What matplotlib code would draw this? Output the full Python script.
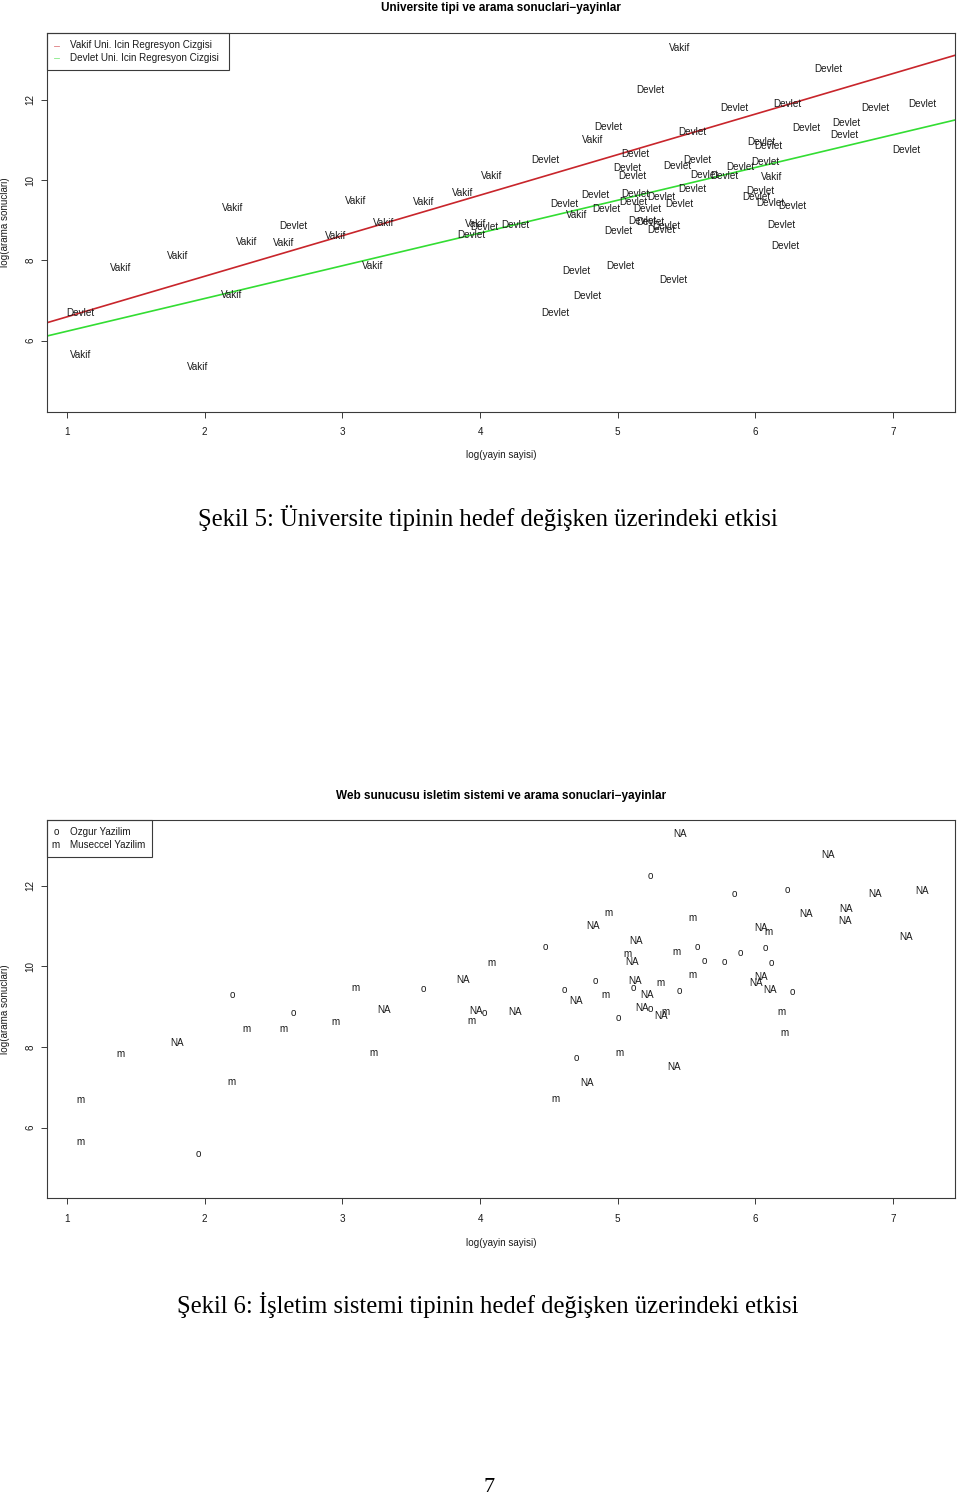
import matplotlib
matplotlib.use("Agg")
import matplotlib.pyplot as plt
from matplotlib.patches import Rectangle
from matplotlib.lines import Line2D

W, H = 960, 1498

# ---------------- data ----------------
log_yayin = [1.100, 1.102, 1.39, 1.80, 1.952, 2.20, 2.198, 2.307, 2.644, 2.570,
             2.95, 3.096, 3.223, 3.30, 3.589, 3.876, 4.08, 3.968, 4.03, 3.935,
             4.253, 5.452, 6.529, 5.237, 5.846, 6.230, 6.868, 7.208, 6.367, 6.66,
             6.648, 7.093, 4.931, 4.82, 5.541, 6.041, 6.095, 5.130, 4.471, 5.071,
             5.102, 5.429, 5.580, 5.63, 5.777, 5.888, 6.07, 6.119, 5.544, 6.037,
             6.003, 6.108, 6.271, 4.835, 5.128, 5.314, 5.110, 5.449, 4.609, 4.914,
             5.214, 4.699, 5.176, 5.239, 5.35, 5.316, 5.006, 6.187, 6.214, 4.699,
             5.016, 5.406, 4.776, 4.546]
log_arama = [6.68, 5.64, 7.82, 8.11, 5.34, 9.30, 7.14, 8.46, 8.85, 8.44,
             8.61, 9.47, 7.85, 8.93, 9.45, 9.67, 10.09, 8.90, 8.84, 8.64,
             8.88, 13.28, 12.77, 12.23, 11.79, 11.89, 11.79, 11.88, 11.30, 11.43,
             11.13, 10.74, 11.33, 11.0, 11.20, 10.95, 10.85, 10.64, 10.49, 10.30,
             10.11, 10.36, 10.49, 10.13, 10.10, 10.32, 10.46, 10.08, 9.78, 9.73,
             9.58, 9.42, 9.36, 9.63, 9.64, 9.58, 9.46, 9.40, 9.41, 9.28,
             9.28, 9.13, 8.98, 8.95, 8.86, 8.76, 8.72, 8.87, 8.36, 7.74,
             7.86, 7.50, 7.11, 6.70]
uni_tipi = (["Devlet"] + ["Vakif"] * 7 + ["Devlet"] + ["Vakif"] * 9 + ["Devlet"] * 3
            + ["Vakif"] + ["Devlet"] * 11 + ["Vakif"] + ["Devlet"] * 13 + ["Vakif"]
            + ["Devlet"] * 13 + ["Vakif"] + ["Devlet"] * 12)
isletim = ["m", "m", "m", "NA", "o", "o", "m", "m", "o", "m",
           "m", "m", "m", "NA", "o", "NA", "m", "NA", "o", "m",
           "NA", "NA", "NA", "o", "o", "o", "NA", "NA", "NA", "NA",
           "NA", "NA", "m", "NA", "m", "NA", "m", "NA", "o", "m",
           "NA", "m", "o", "o", "o", "o", "o", "o", "m", "NA",
           "NA", "NA", "o", "o", "NA", "m", "o", "o", "o", "m",
           "NA", "NA", "NA", "o", "m", "NA", "o", "m", "m", "o",
           "m", "NA", "NA", "m"]

# regression lines (intercept, slope)
vakif_fit = (5.585, 1.0095)
devlet_fit = (5.420, 0.8154)

x_ticks = [1, 2, 3, 4, 5, 6, 7]
y_ticks = [6, 8, 10, 12]

title1 = "Universite tipi ve arama sonuclari\u2212yayinlar"
title2 = "Web sunucusu isletim sistemi ve arama sonuclari\u2212yayinlar"
xlabel = "log(yayin sayisi)"
ylabel = "log(arama sonuclari)"
legend1 = ["Vakif Uni. Icin Regresyon Cizgisi", "Devlet Uni. Icin Regresyon Cizgisi"]
legend2_sym = ["o", "m"]
legend2 = ["Ozgur Yazilim", "Museccel Yazilim"]
caption1 = "\u015eekil 5: \u00dcniversite tipinin hedef de\u011fi\u015fken \u00fczerindeki etkisi"
caption2 = "\u015eekil 6: \u0130\u015fletim sistemi tipinin hedef de\u011fi\u015fken \u00fczerindeki etkisi"
page_no = "7"

# ---------------- styling ----------------
SANS = "Liberation Sans"
SERIF = "Liberation Serif"
TXT = "#1a1a1a"
FRAME = "#3a3a3a"
RED = "#C8252B"
GREEN = "#33DD33"
FS = 7.1
CAP_FS = 17.7

plt.rcParams["font.family"] = [SANS, "DejaVu Sans"]

fig = plt.figure(figsize=(W / 100, H / 100), dpi=100)
fig.patch.set_facecolor("white")


def fx(px):
    return px / W


def fy(py):
    return 1 - py / H


def add_ax(left, top, right, bottom):
    return fig.add_axes([fx(left), fy(bottom), (right - left) / W, (bottom - top) / H])


def style_ax(ax, ylim):
    ax.set_xlim(0.855, 7.449)
    ax.set_ylim(*ylim)
    ax.set_xticks(x_ticks)
    ax.set_xticklabels([str(t) for t in x_ticks])
    ax.set_yticks(y_ticks)
    ax.set_yticklabels([str(t) for t in y_ticks], rotation=90, va="center")
    ax.tick_params(axis="both", direction="out", length=4.3, width=0.7,
                   colors=FRAME, labelcolor=TXT, labelsize=FS)
    ax.tick_params(axis="x", pad=7)
    ax.tick_params(axis="y", pad=4)
    for s in ax.spines.values():
        s.set_color(FRAME)
        s.set_linewidth(0.8)


# ---------------- top plot ----------------
ax1 = add_ax(47, 33.3, 955, 411.7)
style_ax(ax1, (4.233, 13.652))
for xv, yv, lab in zip(log_yayin, log_arama, uni_tipi):
    ax1.text(xv, yv, lab, ha="center", va="center", fontsize=FS, color=TXT)
ax1.axline((0, vakif_fit[0]), slope=vakif_fit[1], color=RED, lw=1.2)
ax1.axline((0, devlet_fit[0]), slope=devlet_fit[1], color=GREEN, lw=1.2)

fig.patches.append(Rectangle((fx(47), fy(69.5)), 182 / W, 36.2 / H,
                             transform=fig.transFigure, fill=False,
                             edgecolor=FRAME, lw=0.8))
for py, col, lab in zip([45.5, 58], [RED, GREEN], legend1):
    fig.lines.append(Line2D([fx(54), fx(59)], [fy(py), fy(py)],
                            transform=fig.transFigure, color=col, lw=0.6, alpha=0.6))
    fig.text(fx(70), fy(py), lab, ha="left", va="center", fontsize=FS, color=TXT)

fig.text(fx(501), fy(8), title1, ha="center", va="center",
         fontsize=8.5, fontweight="bold", color="black")
fig.text(fx(501), fy(455.5), xlabel, ha="center", va="center", fontsize=FS, color=TXT)
fig.text(fx(5.5), fy(222.5), ylabel, ha="center", va="center", rotation=90,
         fontsize=FS, color=TXT)
fig.text(fx(488), fy(518), caption1, ha="center", va="center",
         fontsize=CAP_FS, family=SERIF, color="black")

# ---------------- bottom plot ----------------
ax2 = add_ax(47, 820, 955, 1198.3)
style_ax(ax2, (4.25, 13.63))
for xv, yv, lab in zip(log_yayin, log_arama, isletim):
    ax2.text(xv, yv, lab, ha="center", va="center", fontsize=FS, color=TXT)

fig.patches.append(Rectangle((fx(47), fy(857)), 105 / W, 37 / H,
                             transform=fig.transFigure, fill=False,
                             edgecolor=FRAME, lw=0.8))
for py, sym, lab in zip([832, 845], legend2_sym, legend2):
    fig.text(fx(56), fy(py), sym, ha="center", va="center", fontsize=FS, color=TXT)
    fig.text(fx(70), fy(py), lab, ha="left", va="center", fontsize=FS, color=TXT)

fig.text(fx(501), fy(795.5), title2, ha="center", va="center",
         fontsize=8.5, fontweight="bold", color="black")
fig.text(fx(501), fy(1242.5), xlabel, ha="center", va="center", fontsize=FS, color=TXT)
fig.text(fx(5.5), fy(1009), ylabel, ha="center", va="center", rotation=90,
         fontsize=FS, color=TXT)
fig.text(fx(488), fy(1305), caption2, ha="center", va="center",
         fontsize=CAP_FS, family=SERIF, color="black")

fig.text(fx(489), fy(1488), page_no, ha="center", va="center",
         fontsize=16, family=SERIF, color="black")

fig.savefig("out.png", dpi=100, facecolor="white")
